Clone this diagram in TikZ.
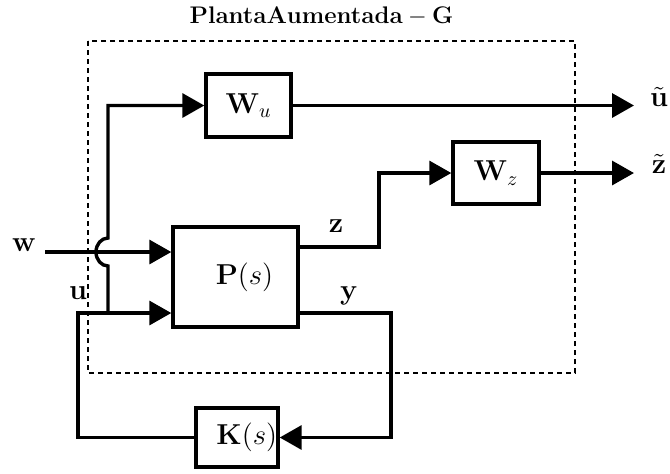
\documentclass[tikz,border=0pt]{standalone}
\usetikzlibrary{arrows.meta,calc}
\begin{document}
\begin{tikzpicture}[x=0.5pt,y=-0.5pt,
  blk/.style={draw,line width=1.7pt,inner sep=0pt,font=\fontsize{14.2}{17}\selectfont},
  sig/.style={line width=1.7pt},
  arr/.style={sig,-{Triangle[length=11pt,width=12pt]}},
  lbl/.style={font=\fontsize{14.2}{17}\selectfont,inner sep=0pt}]
\useasboundingbox (0,0) rectangle (670,473);
% title and dashed boundary
\node[font=\fontsize{12.7}{15}\selectfont,inner sep=0pt] (title) at (321.5,16.2) {$\mathbf{PlantaAumentada-G}$};
\draw[line width=0.7pt,dash pattern=on 2.5pt off 2pt] (88,41) rectangle (575,373);
% blocks
\node[blk,minimum width=42.5pt,minimum height=31.5pt] (Wu) at (248.5,105.5) {$\mathbf{W}_u$};
\node[blk,minimum width=43pt,minimum height=31pt] (Wz) at (496,173) {$\mathbf{W}_z$};
\node[blk,minimum width=62.5pt,minimum height=50pt] (P) at (235.5,277) {\hspace{9pt}$\mathbf{P}(s)$};
\node[blk,minimum width=41pt,minimum height=29.5pt,text width=40pt,align=right] (K) at (237,437.5) {$\mathbf{K}(s)$};
% coordinates
\coordinate (w) at (45,252);
\coordinate (uj) at (108,313);
\coordinate (kc) at (78,313);
\coordinate (zc) at (379,247);
\coordinate (yc) at (391,313);
\coordinate (ut) at (634,105.5);
\coordinate (zt) at (634,173);
% labels
\node[lbl] (wl) at (24,245) {$\mathbf{w}$};
\node[lbl] (ul) at (78,293) {$\mathbf{u}$};
\node[lbl] (zl) at (336,226) {$\mathbf{z}$};
\node[lbl] (yl) at (349,296) {$\mathbf{y}$};
\node[lbl] (utl) at (659,97) {$\tilde{\mathbf{u}}$};
\node[lbl] (ztl) at (659,164) {$\tilde{\mathbf{z}}$};
% connectors
\draw[arr] (w) -- (w -| P.west);
\draw[arr] (uj) -- (uj -| P.west);
\draw[arr] (uj) -- ($(uj |- w)+(0,14)$) arc[start angle=270,end angle=90,x radius=6pt,y radius=7pt] -- (uj |- Wu.west) -- (Wu.west);
\draw[arr] (Wu.east) -- (ut);
\draw[arr] (zc -| P.east) -- (zc) |- (Wz.west);
\draw[arr] (Wz.east) -- (zt);
\draw[arr] (yc -| P.east) -- (yc) |- (K.east);
\draw[sig] (K.west) -| (kc) -- (uj);
\end{tikzpicture}
\end{document}
